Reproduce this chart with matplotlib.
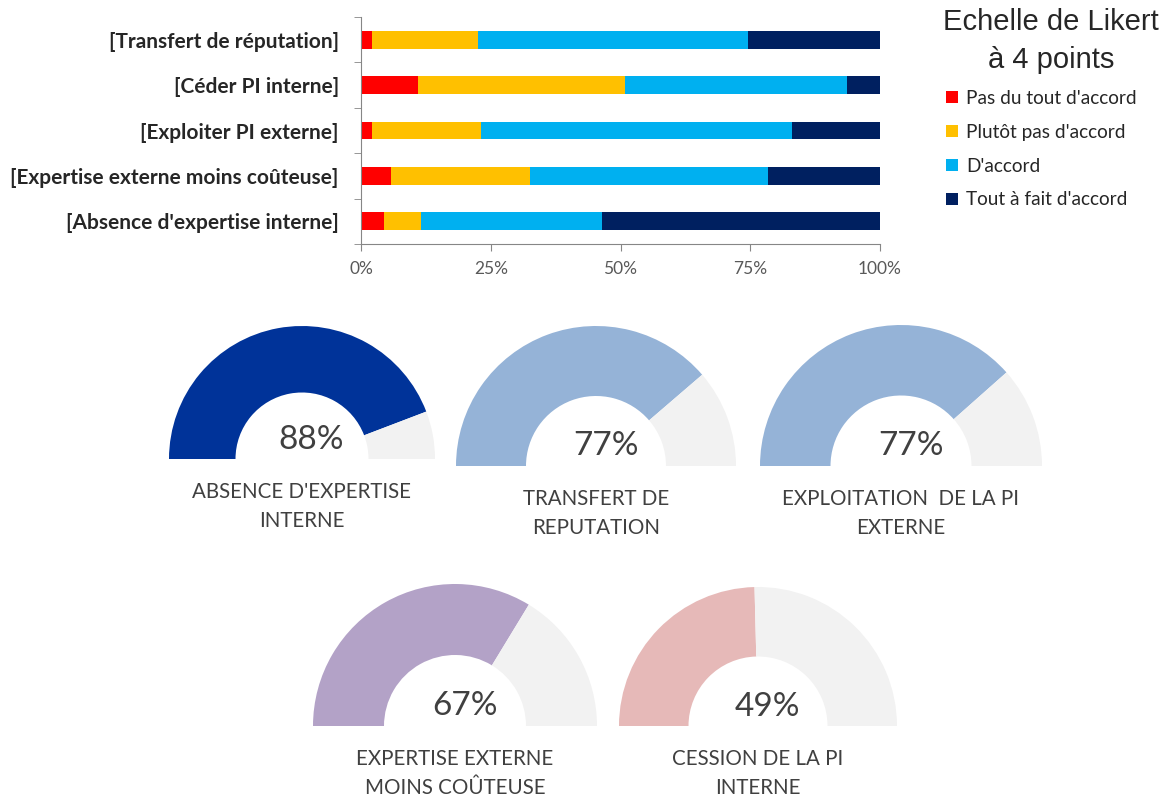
import numpy as np
import matplotlib.pyplot as plt

W, H = 1165, 801

# Likert answers, in % of respondents (top row first)
categories = ['[Transfert de réputation]', '[Céder PI interne]', '[Exploiter PI externe]',
              '[Expertise externe moins coûteuse]', "[Absence d'expertise interne]"]
pas_du_tout = [2.2, 10.9, 2.2, 5.8, 4.5]
plutot_pas = [20.4, 39.9, 20.9, 26.8, 7.1]
d_accord = [51.9, 42.8, 60.0, 45.8, 34.8]
tout_a_fait = [25.5, 6.4, 16.9, 21.6, 53.6]
likert_labels = ["Pas du tout d'accord", "Plutôt pas d'accord", "D'accord", "Tout à fait d'accord"]
likert_colors = ['#FF0000', '#FFC000', '#00B0F0', '#002060']
x_ticks = [0, 25, 50, 75, 100]

# gauges: share of "agree" answers for each item
gauge_rows = [4, 0, 2, 3, 1]
gauge_titles = ["ABSENCE D'EXPERTISE\nINTERNE", 'TRANSFERT DE\nREPUTATION',
                'EXPLOITATION  DE LA PI\nEXTERNE', 'EXPERTISE EXTERNE\nMOINS COÛTEUSE',
                'CESSION DE LA PI\nINTERNE']
gauge_colors = ['#003399', '#95B3D7', '#95B3D7', '#B3A2C7', '#E6B9B8']
# centre x, baseline y, outer radius (pixels)
gauge_boxes = [(302, 459, 133), (596, 466, 140), (901, 466, 141), (455, 726, 142), (758, 726, 139)]

TXT = '#404040'

fig = plt.figure(figsize=(W / 100, H / 100), dpi=100)

# ---- stacked bars ----
ax = fig.add_axes([361 / W, 1 - 244 / H, (880 - 361) / W, (244 - 17) / H])
y = np.arange(len(categories))
left = np.zeros(len(categories))
series = [pas_du_tout, plutot_pas, d_accord, tout_a_fait]
bars = []
for vals, lab, col in zip(series, likert_labels, likert_colors):
    b = ax.barh(y, vals, left=left, height=0.39, color=col, label=lab)
    bars.append(b)
    left += np.array(vals)

ax.set_xlim(0, 100)
ax.set_ylim(len(categories) - 0.5, -0.5)
ax.set_xticks(x_ticks)
ax.set_xticklabels([f'{t}%' for t in x_ticks], fontsize=12.5, color='#595959', family='Lato')
ax.set_yticks(y)
ax.set_yticklabels(categories, fontsize=15, fontweight='bold', color='#262626', family='Lato')
ax.set_yticks(np.arange(len(categories) + 1) - 0.5, minor=True)
ax.tick_params(axis='y', which='major', length=0, pad=16)
ax.tick_params(axis='y', which='minor', length=5, color='#868686')
ax.tick_params(axis='x', length=5, color='#868686', pad=7)
for s in ['top', 'right']:
    ax.spines[s].set_visible(False)
for s in ['left', 'bottom']:
    ax.spines[s].set_color('#868686')

fig.text(1051 / W, 1 - 8 / H, 'Echelle de Likert\nà 4 points', ha='center', va='top',
         fontsize=21, family='Liberation Sans', color='#262626', linespacing=1.45)
fig.legend(handles=bars, labels=likert_labels, loc='upper left',
           bbox_to_anchor=(929 / W, 1 - 73 / H), frameon=False,
           prop={'family': 'Lato', 'size': 13.7}, handlelength=0.6, handleheight=0.6,
           handletextpad=0.45, labelspacing=0.88, labelcolor='#262626')

# ---- gauges ----
for row, title, col, (cx, by, r) in zip(gauge_rows, gauge_titles, gauge_colors, gauge_boxes):
    agree = d_accord[row] + tout_a_fait[row]
    gx = fig.add_axes([(cx - r) / W, 1 - by / H, 2 * r / W, r / H])
    gx.pie([agree, 100 - agree, 100], colors=[col, '#F2F2F2', 'none'], startangle=180,
           counterclock=False, radius=1, wedgeprops=dict(width=0.5, linewidth=0))
    gx.set_aspect('auto')
    gx.set_xlim(-1, 1)
    gx.set_ylim(0, 1)
    gx.axis('off')
    gx.text(0.07, 0.14, f'{round(agree)}%', ha='center', va='center', fontsize=24,
            family='Lato', color=TXT)
    gx.text(0.0, -23 / r, title, ha='center', va='top', fontsize=14.8, family='Lato',
            color=TXT, linespacing=1.55, clip_on=False)

fig.savefig('out.png', dpi=100)
